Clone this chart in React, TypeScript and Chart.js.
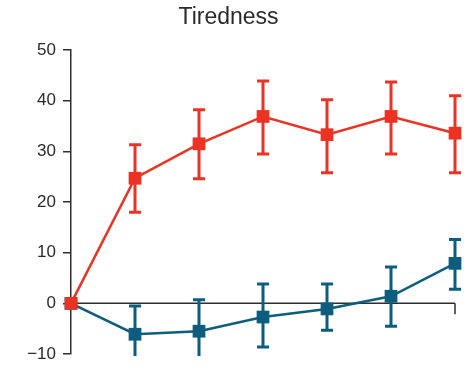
import React, { useEffect, useRef } from "react";
import { Chart, registerables } from "chart.js";

Chart.register(...registerables);

const categories = ["0", "1", "2", "3", "4", "5", "6"];
const redValues = [0, 24.7, 31.5, 36.9, 33.3, 36.9, 33.6];
const redUpper = [0, 31.3, 38.2, 43.9, 40.2, 43.7, 41.0];
const redLower = [0, 18.0, 24.6, 29.5, 25.8, 29.5, 25.8];
const blueValues = [0, -6.1, -5.5, -2.7, -1.1, 1.4, 7.9];
const blueUpper = [0, -0.5, 0.7, 3.8, 3.8, 7.2, 12.6];
const blueLower = [0, -12, -12, -8.6, -5.3, -4.5, 2.8];
const yTicks = [50, 40, 30, 20, 10, 0, -10];

const RED = "#EC3323";
const BLUE = "#0D5D7F";
const AXIS = "#2e2e2e";

const errorBarPlugin = {
  id: "errorBars",
  beforeDatasetsDraw(chart: any) {
    const { ctx, chartArea, scales } = chart;
    const x = scales.x;
    const y = scales.y;
    const y0 = y.getPixelForValue(0);
    const xEnd = x.getPixelForValue(categories.length - 1);
    ctx.save();
    ctx.strokeStyle = AXIS;
    ctx.lineWidth = 1.5;
    ctx.beginPath();
    ctx.moveTo(chartArea.left, y0);
    ctx.lineTo(xEnd, y0);
    ctx.moveTo(xEnd, y0);
    ctx.lineTo(xEnd, y0 + 11);
    ctx.stroke();
    ctx.restore();
  },
  afterDatasetsDraw(chart: any) {
    const { ctx, chartArea, scales } = chart;
    const x = scales.x;
    const y = scales.y;
    const sets = [
      { up: redUpper, lo: redLower, color: RED },
      { up: blueUpper, lo: blueLower, color: BLUE },
    ];
    ctx.save();
    ctx.beginPath();
    ctx.rect(0, 0, chart.width, chartArea.bottom + 2);
    ctx.clip();
    for (const s of sets) {
      ctx.strokeStyle = s.color;
      ctx.lineWidth = 3;
      for (let i = 1; i < categories.length; i++) {
        const px = x.getPixelForValue(i);
        const pu = y.getPixelForValue(s.up[i]);
        const pl = y.getPixelForValue(s.lo[i]);
        ctx.beginPath();
        ctx.moveTo(px, pu);
        ctx.lineTo(px, pl);
        ctx.moveTo(px - 6, pu);
        ctx.lineTo(px + 6, pu);
        ctx.moveTo(px - 6, pl);
        ctx.lineTo(px + 6, pl);
        ctx.stroke();
      }
    }
    ctx.restore();
  },
};

export default function App() {
  const ref = useRef<HTMLCanvasElement | null>(null);
  useEffect(() => {
    if (!ref.current) return;
    const chart = new Chart(ref.current, {
      type: "line",
      data: {
        labels: categories,
        datasets: [
          {
            data: redValues,
            borderColor: RED,
            backgroundColor: RED,
            borderWidth: 2.5,
            pointStyle: "rect",
            pointRadius: 9,
            pointBorderWidth: 0,
            tension: 0,
            clip: false as any,
          },
          {
            data: blueValues,
            borderColor: BLUE,
            backgroundColor: BLUE,
            borderWidth: 2.5,
            pointStyle: "rect",
            pointRadius: 9,
            pointBorderWidth: 0,
            tension: 0,
            clip: false as any,
          },
        ],
      },
      options: {
        animation: false,
        responsive: false,
        layout: { padding: { left: 0, right: 7, top: 0, bottom: 12 } },
        plugins: {
          legend: { display: false },
          tooltip: { enabled: false },
          title: {
            display: true,
            text: "Tiredness",
            color: "#2a2a2a",
            font: { family: "Liberation Sans", size: 23, weight: "normal" },
            padding: { top: 4, bottom: 18.5 },
          },
        },
        scales: {
          x: {
            type: "category",
            display: false,
            offset: false,
          },
          y: {
            min: -10,
            max: 50,
            afterFit(scale: any) {
              scale.width = 71;
              scale.paddingTop = 0;
              scale.paddingBottom = 0;
            },
            afterBuildTicks(scale: any) {
              scale.ticks = yTicks.map((v) => ({ value: v }));
            },
            grid: {
              display: true,
              drawOnChartArea: false,
              drawTicks: true,
              tickLength: 8,
              color: AXIS,
              lineWidth: 1.5,
            },
            border: { display: true, color: AXIS, width: 1.5 },
            ticks: {
              padding: 7,
              color: "#2a2a2a",
              font: { family: "Liberation Sans", size: 17 },
              callback: (v: any) => String(v).replace("-", "\u2212"),
            },
          },
        },
      },
      plugins: [errorBarPlugin],
    });
    return () => chart.destroy();
  }, []);
  return (
    <div style={{ position: "fixed", left: 0, top: 0, width: 464, height: 366 }}>
      <canvas ref={ref} width={464} height={366} />
    </div>
  );
}
